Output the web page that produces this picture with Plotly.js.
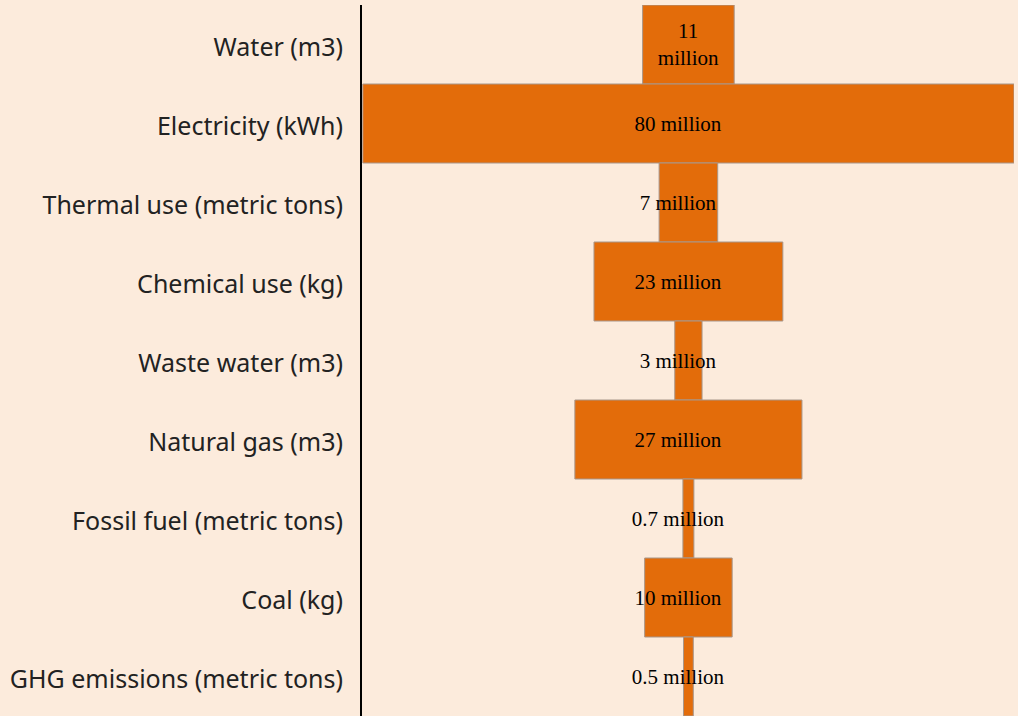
<!DOCTYPE html>
<html>
<head>
<meta charset="utf-8">
<script src="https://cdn.plot.ly/plotly-3.0.1.min.js"></script>
<style>html,body{margin:0;padding:0;background:#FCEBDC;}#chart{width:1018px;height:716px;}</style>
</head>
<body>
<div id="chart"></div>
<script>
var categories = ["Water (m3)", "Electricity (kWh)", "Thermal use (metric tons)", "Chemical use (kg)", "Waste water (m3)", "Natural gas (m3)", "Fossil fuel (metric tons)", "Coal (kg)", "GHG emissions (metric tons)"];
var values = [11.25, 80, 7.2, 23.2, 3.35, 27.9, 1.35, 10.75, 1.2];
var labels = ["11<br>million", "80 million", "7 million", "23 million", "3 million", "27 million", "0.7 million", "10 million", "0.5 million"];

var pad = "\u00a0\u00a0\u00a0\u00a0";
var templates = categories.map(function (c, i) { return i === 0 ? "%{text}" : "%{text}" + pad; });

var trace = {
  type: "funnel",
  orientation: "h",
  y: categories,
  x: values,
  text: labels,
  textinfo: "text",
  texttemplate: templates,
  textposition: "inside",
  insidetextanchor: "middle",
  constraintext: "none",
  textfont: {family: "Liberation Serif, Times New Roman, serif", size: 21, color: "#000"},
  insidetextfont: {family: "Liberation Serif, Times New Roman, serif", size: 21, color: "#000"},
  marker: {color: "#E36C0A", line: {color: "#A8968A", width: 1}},
  connector: {visible: false},
  hoverinfo: "none"
};

var layout = {
  width: 1018,
  height: 716,
  paper_bgcolor: "#FCEBDC",
  plot_bgcolor: "#FCEBDC",
  margin: {l: 362, r: 4, t: 5, b: 0},
  funnelgap: 0,
  showlegend: false,
  xaxis: {visible: false, range: [-40.1, 40]},
  yaxis: {
    showline: true, linecolor: "#000", linewidth: 2,
    showgrid: false, zeroline: false,
    ticks: "", ticklabelstandoff: 12, ticklabelshift: -3,
    tickfont: {family: "Noto Sans, Open Sans, sans-serif", size: 25, color: "#222"}
  }
};

Plotly.newPlot("chart", [trace], layout, {staticPlot: true});
</script>
</body>
</html>
